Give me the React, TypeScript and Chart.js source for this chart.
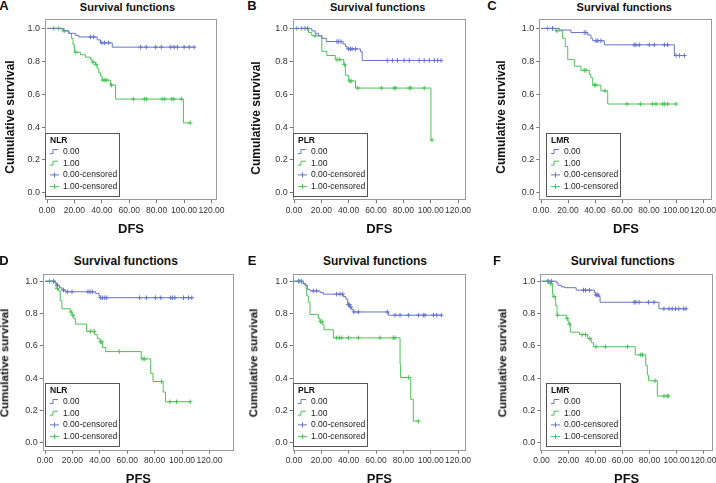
import React, { useEffect, useRef } from "react";
import { Chart, registerables } from "chart.js";

Chart.register(...registerables);

const FONT = "'Liberation Sans', Arial, Helvetica, sans-serif";
const BLUE = "#6674c8";
const GREEN = "#4cc35a";
const FRAME = "#9a9a9a";

const X_TICKS = [0, 20, 40, 60, 80, 100, 120];
const Y_TICKS = [0, 0.2, 0.4, 0.6, 0.8, 1.0];
const LEGEND_LABELS = ["0.00", "1.00", "0.00-censored", "1.00-censored"];
const PANEL_TITLE = "Survival functions";
const Y_TITLE = "Cumulative survival";

// ---- A: DFS by NLR ----
const A0_t = [0, 12.2, 15.9, 20.7, 23.2, 36.6, 39, 47.6];
const A0_s = [1, 0.985, 0.97, 0.958, 0.948, 0.93, 0.912, 0.886];
const A0_c = [31.7, 34.1, 40, 42, 45, 68.3, 72.4, 79.3, 83.4, 90.2, 92.7, 95.1, 100, 103.7, 107.3];
const A1_t = [0, 11, 15.9, 17.8, 19, 20, 24.4, 28, 31.7, 32.9, 35.4, 36.6, 37.8, 39, 40.2, 46.3, 50, 99.5];
const A1_s = [1, 0.985, 0.97, 0.94, 0.9, 0.855, 0.84, 0.825, 0.81, 0.795, 0.78, 0.755, 0.73, 0.71, 0.685, 0.655, 0.57, 0.425];
const A1_c = [4.9, 8.5, 12.5, 21, 33.5, 35.8, 40.8, 42.2, 43.6, 47, 63, 71, 72.5, 84, 86, 91, 92.5, 98, 104.5];

// ---- B: DFS by PLR ----
const B0_t = [0, 13, 15.5, 17.9, 20.4, 23.6, 35.9, 37.6, 38.8, 48.6, 49.9];
const B0_s = [1, 0.985, 0.97, 0.955, 0.94, 0.92, 0.905, 0.89, 0.875, 0.86, 0.805];
const B0_c = [8.1, 9.8, 31.4, 32.7, 34.4, 40, 41.3, 42.5, 45, 68.3, 72, 75.7, 80.6, 84.3, 91.6, 95.3, 99, 102.7, 105.2, 107.6];
const B1_t = [0, 10.6, 13, 20.4, 24, 30.2, 36.4, 37.6, 40, 45, 100.2];
const B1_s = [1, 0.975, 0.955, 0.86, 0.835, 0.81, 0.78, 0.715, 0.68, 0.637, 0.32];
const B1_c = [2, 5.7, 15.5, 31.5, 33.5, 36.9, 40.8, 41.8, 46.7, 63.9, 73.2, 74.4, 84.3, 85.5, 95.3, 101];

// ---- C: DFS by LMR ----
const C0_t = [0, 13.6, 22.2, 34.6, 37, 38.3, 46.9, 98.8];
const C0_s = [1, 0.99, 0.975, 0.96, 0.94, 0.925, 0.9, 0.835];
const C0_c = [8.6, 32, 33.3, 40.7, 42, 44.4, 69, 70.4, 72.8, 80.2, 83.9, 91.4, 93.8, 100, 102.5, 106.2];
const C1_t = [0, 10.6, 16, 18, 19.8, 24.7, 29.6, 35.8, 37, 38.3, 44.4, 49.4];
const C1_s = [1, 0.985, 0.94, 0.89, 0.81, 0.77, 0.745, 0.72, 0.7, 0.655, 0.62, 0.54];
const C1_c = [4.9, 8.6, 11.9, 32, 33.3, 39.5, 40.7, 47.4, 63.7, 73.6, 82.7, 85.2, 90.1, 91.4, 93.8, 100];

// ---- D: PFS by NLR ----
const D0_t = [0, 7.4, 8.6, 10.6, 12.3, 14.8, 36.9, 39.4, 40.1];
const D0_s = [1, 0.99, 0.975, 0.96, 0.945, 0.935, 0.925, 0.91, 0.898];
const D0_c = [6.2, 9.1, 13.5, 16.3, 19.7, 31.3, 32.8, 34.5, 40.6, 41.9, 43.6, 45, 69, 73.9, 80.5, 84.5, 91.6, 93.1, 94.8, 101, 104.7, 107.1];
const D1_t = [0, 7.4, 8.1, 9.9, 11.1, 12.3, 18.5, 19.7, 20.9, 22.2, 30.3, 36.2, 38.2, 40.1, 41.9, 44.3, 70.2, 77.1, 78.8, 86.2, 87.9];
const D1_s = [1, 0.985, 0.955, 0.94, 0.88, 0.83, 0.81, 0.79, 0.77, 0.735, 0.69, 0.67, 0.645, 0.625, 0.59, 0.565, 0.52, 0.43, 0.38, 0.315, 0.255];
const D1_c = [3.2, 6.2, 9, 19, 20.3, 33.3, 35.7, 40.6, 41.4, 54.2, 71.4, 72.7, 85, 91.1, 96, 105.9];

// ---- E: PFS by PLR ----
const E0_t = [0, 6.8, 8, 9.8, 11.7, 19, 21.5, 36.1, 38, 39.3, 41, 42.2, 43.4, 69];
const E0_s = [1, 0.985, 0.975, 0.95, 0.94, 0.93, 0.92, 0.905, 0.89, 0.855, 0.84, 0.825, 0.81, 0.79];
const E0_c = [3.2, 5.6, 14.1, 16.6, 31.2, 33.7, 35.6, 39.8, 40.5, 41.5, 43.9, 47.1, 68.3, 73.9, 77.6, 83.7, 91, 94.6, 95.9, 102, 104.4, 107.8];
const E1_t = [0, 5.6, 8.8, 9.3, 10.5, 11.7, 17.8, 19, 21, 22, 28.8, 77.6, 78, 85.4, 87.3];
const E1_s = [1, 0.985, 0.955, 0.91, 0.87, 0.795, 0.77, 0.75, 0.73, 0.7, 0.65, 0.485, 0.405, 0.27, 0.135];
const E1_c = [4.2, 19.5, 20.5, 31.2, 33.2, 34.9, 39.8, 47.1, 62.9, 72.7, 73.9, 83.7, 91];

// ---- F: PFS by LMR ----
const F0_t = [0, 11, 12.3, 14.7, 17.2, 25.7, 39.2, 40, 42.4, 43.4, 87];
const F0_s = [1, 0.99, 0.975, 0.965, 0.96, 0.945, 0.93, 0.915, 0.905, 0.87, 0.83];
const F0_c = [4.9, 7.4, 31.1, 32.6, 35.5, 40.4, 41.2, 41.9, 68.6, 69.9, 72.3, 79.2, 83.3, 90.7, 94.4, 96.8, 99.3, 101.7, 105.4, 107.1];
const F1_t = [0, 6.1, 8.1, 8.6, 10.5, 11.5, 18.4, 19.6, 20.3, 21.3, 28.2, 34.3, 36.8, 38.5, 69.4, 77.2, 78.4, 79.2, 85.8];
const F1_s = [1, 0.985, 0.92, 0.905, 0.85, 0.79, 0.77, 0.75, 0.735, 0.685, 0.67, 0.645, 0.62, 0.595, 0.545, 0.48, 0.42, 0.385, 0.29];
const F1_c = [4.9, 6.7, 9.3, 11.9, 18.9, 20.8, 30.1, 32.6, 35.8, 40.4, 47.3, 63.7, 73.5, 74.8, 84.1, 90.7, 93.1, 93.9];

type Group = { t: number[]; s: number[]; c: number[] };
type Panel = { letter: string; factor: string; outcome: string; g0: Group; g1: Group };

const PANELS: Panel[] = [
  { letter: "A", factor: "NLR", outcome: "DFS", g0: { t: A0_t, s: A0_s, c: A0_c }, g1: { t: A1_t, s: A1_s, c: A1_c } },
  { letter: "B", factor: "PLR", outcome: "DFS", g0: { t: B0_t, s: B0_s, c: B0_c }, g1: { t: B1_t, s: B1_s, c: B1_c } },
  { letter: "C", factor: "LMR", outcome: "DFS", g0: { t: C0_t, s: C0_s, c: C0_c }, g1: { t: C1_t, s: C1_s, c: C1_c } },
  { letter: "D", factor: "NLR", outcome: "PFS", g0: { t: D0_t, s: D0_s, c: D0_c }, g1: { t: D1_t, s: D1_s, c: D1_c } },
  { letter: "E", factor: "PLR", outcome: "PFS", g0: { t: E0_t, s: E0_s, c: E0_c }, g1: { t: E1_t, s: E1_s, c: E1_c } },
  { letter: "F", factor: "LMR", outcome: "PFS", g0: { t: F0_t, s: F0_s, c: F0_c }, g1: { t: F1_t, s: F1_s, c: F1_c } },
];

// layout in page pixels
type Box = {
  frameL: number; frameR: number; frameT: number; frameB: number;
  zeroX: number; x120: number; y1: number; y0: number; xTitleY: number;
  legendInset: number;
  letterPos: [number, number]; titlePos: [number, number]; yTitlePos: [number, number];
  titleSize: number; yTitleSize: number;
};

const TOP = { frameT: 17, frameB: 200, y1: 26.5, y0: 192.5, xTitleY: 229 };
const BOT = { frameT: 272, frameB: 450.5, y1: 279.3, y0: 442.7, xTitleY: 479 };

const LAYOUT: Box[] = [
  { ...TOP, frameL: 45, frameR: 217, zeroX: 47, x120: 211.5, legendInset: 0, letterPos: [4, 5], titlePos: [127.5, 6.5], yTitlePos: [10, 116.7], titleSize: 11, yTitleSize: 12 },
  { ...TOP, frameL: 292.7, frameR: 466, zeroX: 294, x120: 458, legendInset: 0, letterPos: [252, 4.7], titlePos: [377.7, 7], yTitlePos: [256, 117.5], titleSize: 11, yTitleSize: 12 },
  { ...TOP, frameL: 539.3, frameR: 712.7, zeroX: 541, x120: 703, legendInset: 6.7, letterPos: [492, 4.7], titlePos: [624.3, 7], yTitlePos: [501, 117], titleSize: 11, yTitleSize: 12 },
  { ...BOT, frameL: 42.7, frameR: 234, zeroX: 45, x120: 209.5, legendInset: 2.3, letterPos: [4, 260], titlePos: [125.8, 260.7], yTitlePos: [5, 363], titleSize: 12, yTitleSize: 11.5 },
  { ...BOT, frameL: 292.7, frameR: 466, zeroX: 294, x120: 458, legendInset: 0, letterPos: [252, 260], titlePos: [375, 261], yTitlePos: [254.3, 363.3], titleSize: 12, yTitleSize: 11.5 },
  { ...BOT, frameL: 540.3, frameR: 713, zeroX: 541.5, x120: 703.5, legendInset: 5.7, letterPos: [497, 260], titlePos: [622.7, 261], yTitlePos: [502.7, 363], titleSize: 12, yTitleSize: 11.5 },
];

function valueAt(g: Group, x: number): number {
  let v = g.s[0];
  for (let i = 0; i < g.t.length; i++) if (g.t[i] <= x) v = g.s[i];
  return v;
}

function lineData(g: Group) {
  const pts = g.t.map((x, i) => ({ x, y: g.s[i] }));
  const end = Math.max(g.t[g.t.length - 1], g.c.length ? g.c[g.c.length - 1] : 0);
  pts.push({ x: end, y: g.s[g.s.length - 1] });
  return pts;
}

function censData(g: Group) {
  return g.c.map((x) => ({ x, y: valueAt(g, x) }));
}

function PanelChart({ panel, box }: { panel: Panel; box: Box }) {
  const ref = useRef<HTMLCanvasElement | null>(null);
  const cl = Math.round(box.frameL - 34);
  const ct = Math.round(box.frameT - 3);
  const padR = 18;
  const cr = box.frameR + padR;
  const cb = box.xTitleY + 7.8;
  const W = Math.round(cr - cl);
  const H = Math.round(cb - ct);

  useEffect(() => {
    const canvas = ref.current;
    if (!canvas) return;
    const ppx = (box.x120 - box.zeroX) / 120;
    const xMin = -(box.zeroX - box.frameL) / ppx;
    const xMax = 120 + (box.frameR - box.x120) / ppx;
    const ppy = box.y0 - box.y1;
    const yMin = -(box.frameB - box.y0) / ppy;
    const yMax = 1 + (box.y1 - box.frameT) / ppy;

    const framePlugin = {
      id: "kmFrame",
      beforeDatasetsDraw(chart: any) {
        const { ctx, chartArea: a } = chart;
        ctx.save();
        ctx.strokeStyle = FRAME;
        ctx.lineWidth = 1;
        ctx.strokeRect(Math.round(a.left) + 0.5, Math.round(a.top) + 0.5, Math.round(a.right - a.left) - 1, Math.round(a.bottom - a.top) - 1);
        ctx.restore();
      },
    };

    const legendPlugin = {
      id: "kmLegend",
      afterDraw(chart: any) {
        const { ctx, chartArea: a } = chart;
        const bw = 74, bh = 63;
        const L = Math.round(a.left + box.legendInset);
        const T = Math.round(a.bottom - 4.5 - bh);
        ctx.save();
        ctx.fillStyle = "#ffffff";
        ctx.fillRect(L, T, bw, bh);
        ctx.strokeStyle = "#555555";
        ctx.lineWidth = 1;
        ctx.strokeRect(L + 0.5, T + 0.5, bw, bh);
        ctx.textBaseline = "middle";
        ctx.textAlign = "left";
        ctx.fillStyle = "#111111";
        ctx.font = `bold 8.5px ${FONT}`;
        ctx.fillText(panel.factor, L + 5, T + 7.5);
        ctx.font = `8.5px ${FONT}`;
        LEGEND_LABELS.forEach((lab, i) => {
          const y = T + 18.5 + 11.7 * i;
          const col = i % 2 === 0 ? BLUE : GREEN;
          const x = L + 5;
          ctx.strokeStyle = col;
          ctx.lineWidth = 1;
          ctx.beginPath();
          if (i < 2) {
            ctx.moveTo(x, y + 2);
            ctx.lineTo(x + 3, y + 2);
            ctx.lineTo(x + 3, y - 2);
            ctx.lineTo(x + 8, y - 2);
          } else {
            ctx.moveTo(x, y);
            ctx.lineTo(x + 9, y);
            ctx.moveTo(x + 4.5, y - 2.5);
            ctx.lineTo(x + 4.5, y + 2.5);
          }
          ctx.stroke();
          ctx.fillStyle = "#222222";
          ctx.fillText(lab, L + 18, y);
        });
        ctx.restore();
      },
    };

    const chart = new Chart(canvas, {
      type: "line",
      data: {
        datasets: [
          { data: lineData(panel.g0), borderColor: BLUE, borderWidth: 1, stepped: true, pointRadius: 0, fill: false },
          { data: lineData(panel.g1), borderColor: GREEN, borderWidth: 1, stepped: true, pointRadius: 0, fill: false },
          { data: censData(panel.g0), showLine: false, pointStyle: "cross", pointRadius: 2.3, borderColor: BLUE, backgroundColor: BLUE, pointBorderWidth: 1 },
          { data: censData(panel.g1), showLine: false, pointStyle: "cross", pointRadius: 2.3, borderColor: GREEN, backgroundColor: GREEN, pointBorderWidth: 1 },
        ] as any,
      },
      options: {
        animation: false,
        responsive: false,
        maintainAspectRatio: false,
        events: [],
        layout: { padding: { left: 0, top: box.frameT - ct, right: W - (box.frameR - cl), bottom: 0 } },
        plugins: { legend: { display: false }, tooltip: { enabled: false }, title: { display: false } },
        scales: {
          x: {
            type: "linear",
            min: xMin,
            max: xMax,
            afterBuildTicks: (s: any) => {
              s.ticks = X_TICKS.map((v) => ({ value: v }));
            },
            afterFit: (s: any) => {
              s.height = cb - box.frameB;
              s.paddingLeft = 0;
              s.paddingRight = 0;
            },
            ticks: {
              callback: (v: any) => Number(v).toFixed(2),
              font: { family: FONT, size: 8.5 },
              color: "#333333",
              padding: 2,
              maxRotation: 0,
              autoSkip: false,
            },
            grid: { drawOnChartArea: false, drawTicks: true, tickLength: 3, color: "#777777" },
            border: { display: false },
            title: {
              display: true,
              text: panel.outcome,
              font: { family: FONT, size: 13, weight: "bold" },
              color: "#111111",
              padding: 0,
            },
          },
          y: {
            type: "linear",
            min: yMin,
            max: yMax,
            afterBuildTicks: (s: any) => {
              s.ticks = Y_TICKS.map((v) => ({ value: v }));
            },
            afterFit: (s: any) => {
              s.width = box.frameL - cl;
              s.paddingTop = 0;
              s.paddingBottom = 0;
            },
            ticks: {
              callback: (v: any) => Number(v).toFixed(1),
              font: { family: FONT, size: 9 },
              color: "#333333",
              padding: 2,
              autoSkip: false,
            },
            grid: { drawOnChartArea: false, drawTicks: true, tickLength: 3, color: "#777777" },
            border: { display: false },
            title: { display: false },
          },
        },
      } as any,
      plugins: [framePlugin, legendPlugin],
    });
    return () => chart.destroy();
  }, [panel, box]);

  return (
    <canvas
      ref={ref}
      width={W}
      height={H}
      style={{ position: "absolute", left: cl, top: ct, width: W, height: H }}
    />
  );
}

function centered(x: number, y: number, size: number, rotate = false): React.CSSProperties {
  return {
    position: "absolute",
    left: x,
    top: y,
    transform: rotate ? "translate(-50%, -50%) rotate(-90deg)" : "translate(-50%, -50%)",
    fontFamily: FONT,
    fontWeight: "bold",
    fontSize: size,
    lineHeight: 1,
    whiteSpace: "nowrap",
    color: "#111111",
  };
}

export default function App() {
  return (
    <div
      style={{
        position: "fixed",
        left: 0,
        top: 0,
        width: 716,
        height: 483,
        overflow: "hidden",
        background: "#ffffff",
      }}
    >
      {PANELS.map((p, i) => {
        const b = LAYOUT[i];
        return (
          <React.Fragment key={p.letter}>
            <PanelChart panel={p} box={b} />
            <div style={centered(b.letterPos[0], b.letterPos[1], 13)}>{p.letter}</div>
            <div style={centered(b.titlePos[0], b.titlePos[1], b.titleSize)}>{PANEL_TITLE}</div>
            <div style={centered(b.yTitlePos[0], b.yTitlePos[1], b.yTitleSize, true)}>{Y_TITLE}</div>
          </React.Fragment>
        );
      })}
    </div>
  );
}
